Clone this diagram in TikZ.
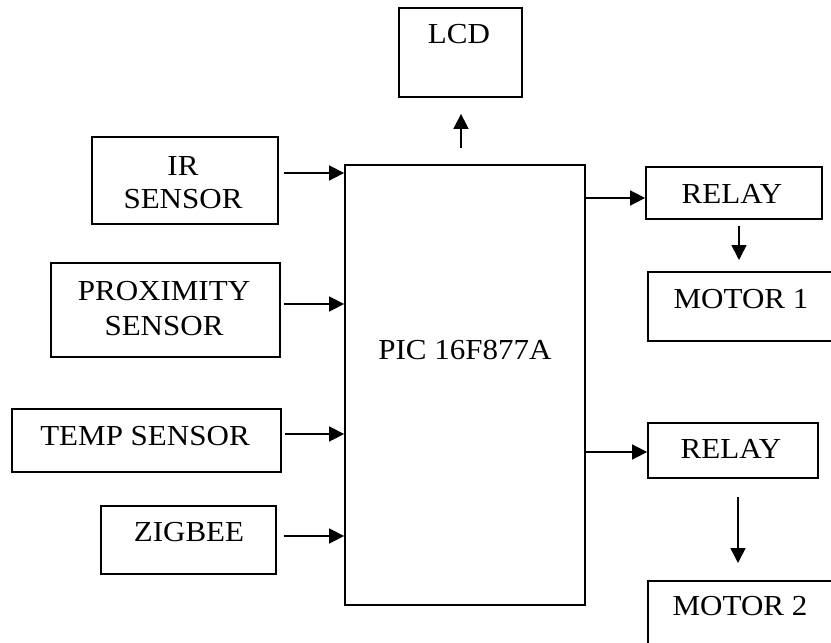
\documentclass[tikz,border=0pt]{standalone}
\usepackage{fontspec}
\setmainfont{Liberation Serif}[FakeStretch=1.07]
\usetikzlibrary{arrows.meta}
\begin{document}
\begin{tikzpicture}[x=1pt,y=-1pt,
  box/.style={draw=black,line width=1.8pt,rectangle,inner sep=0pt},
  txt/.style={inner sep=0pt,font=\fontsize{29}{34}\selectfont,align=center},
  arr/.style={line width=1.6pt,-{Triangle[length=15pt,width=15pt]}}]
\fill[white] (0,0) rectangle (831,643);
\clip (0,0) rectangle (831,643);
% boxes
\node[box,minimum width=123pt,minimum height=89pt] (lcd) at (460.5,52.5) {};
\node[box,minimum width=240pt,minimum height=440pt] (pic) at (465,385) {};
\node[box,minimum width=186pt,minimum height=87pt] (ir) at (185,180.5) {};
\node[box,minimum width=229pt,minimum height=94pt] (prox) at (165.5,310) {};
\node[box,minimum width=269pt,minimum height=63pt] (temp) at (146.5,440.5) {};
\node[box,minimum width=175pt,minimum height=68pt] (zig) at (188.5,540) {};
\node[box,minimum width=176pt,minimum height=52pt] (relay1) at (734,193) {};
\node[box,minimum width=190pt,minimum height=69pt] (motor1) at (743,306.5) {};
\node[box,minimum width=170pt,minimum height=55pt] (relay2) at (733,450.5) {};
\node[box,minimum width=190pt,minimum height=80pt] (motor2) at (743,621) {};
% texts
\node[txt] (tlcd) at (459,34) {LCD};
\node[txt] (tpic) at (465,350) {PIC 16F877A};
\node[txt] (tir1) at (183,166) {IR};
\node[txt] (tir2) at (183,199) {SENSOR};
\node[txt] (tprox1) at (164,291) {PROXIMITY};
\node[txt] (tprox2) at (164,326) {SENSOR};
\node[txt] (ttemp) at (145,436) {TEMP SENSOR};
\node[txt] (tzig) at (189,532) {ZIGBEE};
\node[txt] (trel1) at (732,194) {RELAY};
\node[txt] (tmot1) at (741,299) {MOTOR 1};
\node[txt] (trel2) at (731,449) {RELAY};
\node[txt] (tmot2) at (740,606) {MOTOR 2};
% connectors
\coordinate (lcdfrom) at (461,148);
\draw[arr] (lcdfrom) -- ([yshift=-16pt]lcd.south -| lcdfrom);
\draw[arr] ([xshift=5pt]ir.east |- 0,173) -- (pic.west |- 0,173);
\draw[arr] ([xshift=3pt]prox.east |- 0,304) -- (pic.west |- 0,304);
\draw[arr] ([xshift=3pt]temp.east |- 0,434) -- (pic.west |- 0,434);
\draw[arr] ([xshift=7pt]zig.east |- 0,536) -- (pic.west |- 0,536);
\draw[arr] (pic.east |- 0,198) -- (relay1.west |- 0,198);
\draw[arr] (pic.east |- 0,452) -- (relay2.west |- 0,452);
\coordinate (r1from) at (739,226);
\draw[arr] (r1from) -- (739,260);
\coordinate (r2from) at (738,497);
\draw[arr] (r2from) -- (738,563);
\end{tikzpicture}
\end{document}
